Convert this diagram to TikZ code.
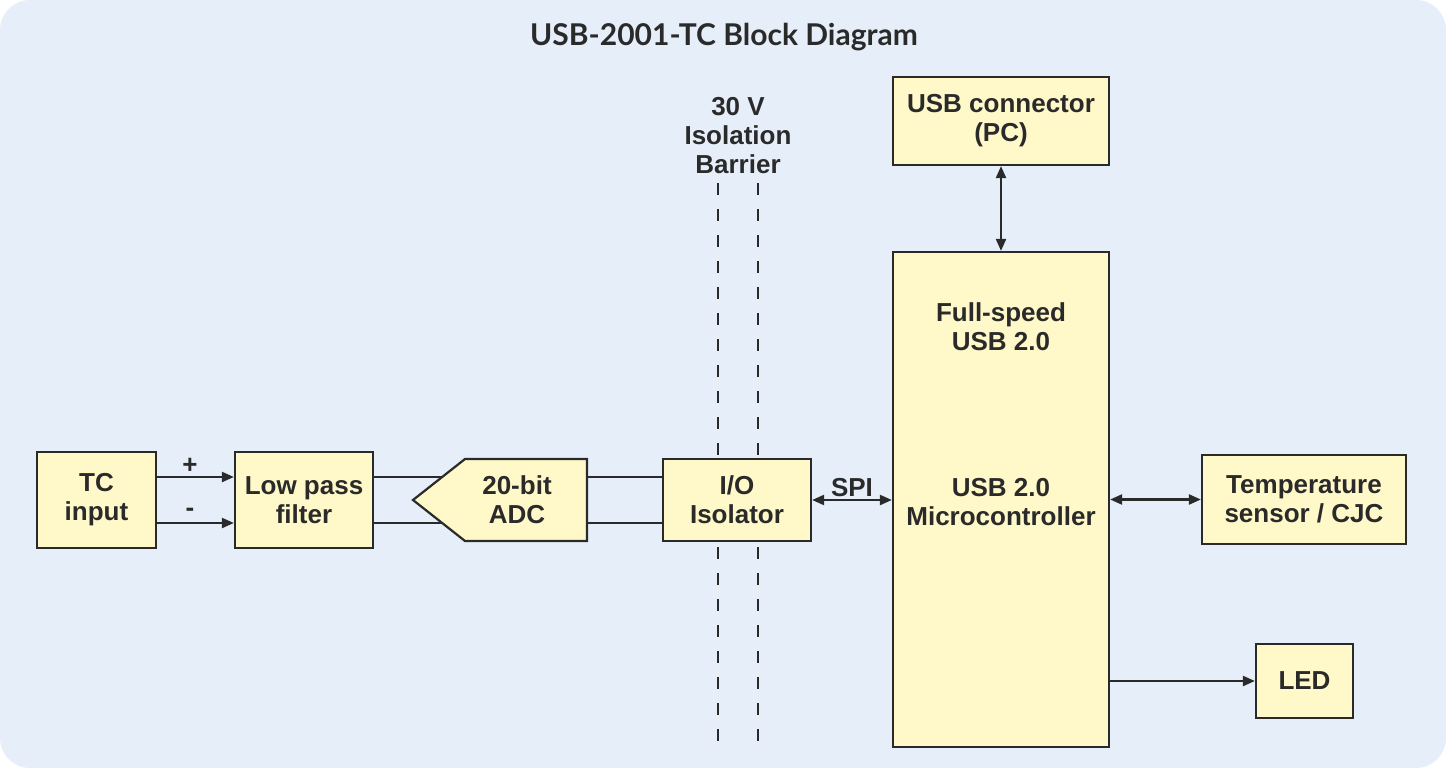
\documentclass[tikz,border=0pt]{standalone}
\usepackage{fontspec}
\setmainfont{Liberation Sans}
\newfontfamily\titlefont{Lato}
\usetikzlibrary{arrows.meta}
\definecolor{bgblue}{HTML}{E6EFF9}
\definecolor{boxfill}{HTML}{FFF8C8}
\definecolor{ink}{HTML}{2A2A2A}
\begin{document}
\begin{tikzpicture}[x=1pt,y=-1pt,
  blk/.style={draw=ink, fill=boxfill, line width=2.2pt, inner sep=0pt, align=center,
    font=\fontsize{26}{29}\selectfont\bfseries, text=ink},
  lbl/.style={inner sep=0pt, align=center, font=\fontsize{26}{29}\selectfont\bfseries, text=ink},
  wire/.style={draw=ink, line width=2.2pt},
  arr/.style={wire, -{Triangle[length=12pt,width=10pt]}},
  darr/.style={wire, {Triangle[length=12pt,width=10pt]}-{Triangle[length=12pt,width=10pt]}},
  barrier/.style={draw=ink, line width=2.5pt, dash pattern=on 12pt off 14pt}
]
\useasboundingbox (0,0) rectangle (1446,768);
\fill[white] (0,0) rectangle (1446,768);
\fill[bgblue, rounded corners=30pt] (0,0) rectangle (1446,768);

\node[lbl, font=\fontsize{30}{34}\selectfont\titlefont\bfseries] (title) at (724,37) {USB-2001-TC Block Diagram};

% isolation barrier
\coordinate (b1top) at (718,183); \coordinate (b1bot) at (718,748);
\coordinate (b2top) at (758,183); \coordinate (b2bot) at (758,748);
\draw[barrier] (b1top) -- (b1bot);
\draw[barrier] (b2top) -- (b2bot);
\node[lbl] (barriertxt) at (738,136) {30 V\\Isolation\\Barrier};

% blocks
\node[blk, minimum width=119pt, minimum height=96pt] (tc) at (96.5,500) {TC\\input};
\node[blk, minimum width=138pt, minimum height=96pt] (lpf) at (304,500) {Low pass\\filter};

% ADC pentagon
\coordinate (adctip) at (413,500);
\coordinate (adcnw) at (465,459);
\coordinate (adcne) at (587,459);
\coordinate (adcse) at (587,541);
\coordinate (adcsw) at (465,541);
\filldraw[draw=ink, fill=boxfill, line width=2.2pt, line join=miter] (adctip) -- (adcnw) -- (adcne) -- (adcse) -- (adcsw) -- cycle;
\node[lbl] (adc) at (517,500) {20-bit\\ADC};
\coordinate (adcin1) at (442.8,477);
\coordinate (adcin2) at (442.8,523);
\coordinate (adcout1) at (587,477);
\coordinate (adcout2) at (587,523);

\node[blk, minimum width=148pt, minimum height=82pt] (iso) at (737,500) {I/O\\Isolator};
\node[blk, minimum width=216pt, minimum height=88pt] (usb) at (1001,121) {USB connector\\(PC)};
\node[blk, minimum width=216pt, minimum height=495pt] (mcu) at (1001,499.5) {};
\node[lbl] (mcu1) at (1001,327) {Full-speed\\USB 2.0};
\node[lbl] (mcu2) at (1001,502) {USB 2.0\\Microcontroller};
\node[blk, minimum width=204pt, minimum height=89pt] (temp) at (1304,499.5) {Temperature\\sensor / CJC};
\node[blk, minimum width=97pt, minimum height=74pt] (led) at (1304.5,681) {LED};

% connectors
\draw[arr] (tc.east |- 0,477) -- (lpf.west |- 0,477);
\draw[arr] (tc.east |- 0,523) -- (lpf.west |- 0,523);
\node[lbl] (plus) at (190,466) {+};
\node[lbl] (minus) at (190,512) {-};
\draw[wire] (lpf.east |- adcin1) -- (adcin1);
\draw[wire] (lpf.east |- adcin2) -- (adcin2);
\draw[wire] (adcout1) -- (iso.west |- adcout1);
\draw[wire] (adcout2) -- (iso.west |- adcout2);
\draw[darr] (iso.east) -- (mcu.west |- iso.east);
\node[lbl] (spi) at (852,488) {SPI};
\draw[darr] (usb.south) -- (mcu.north);
\draw[darr] (mcu.east |- temp.west) -- (temp.west);
\draw[arr] (mcu.east |- led.west) -- (led.west);
\end{tikzpicture}
\end{document}
